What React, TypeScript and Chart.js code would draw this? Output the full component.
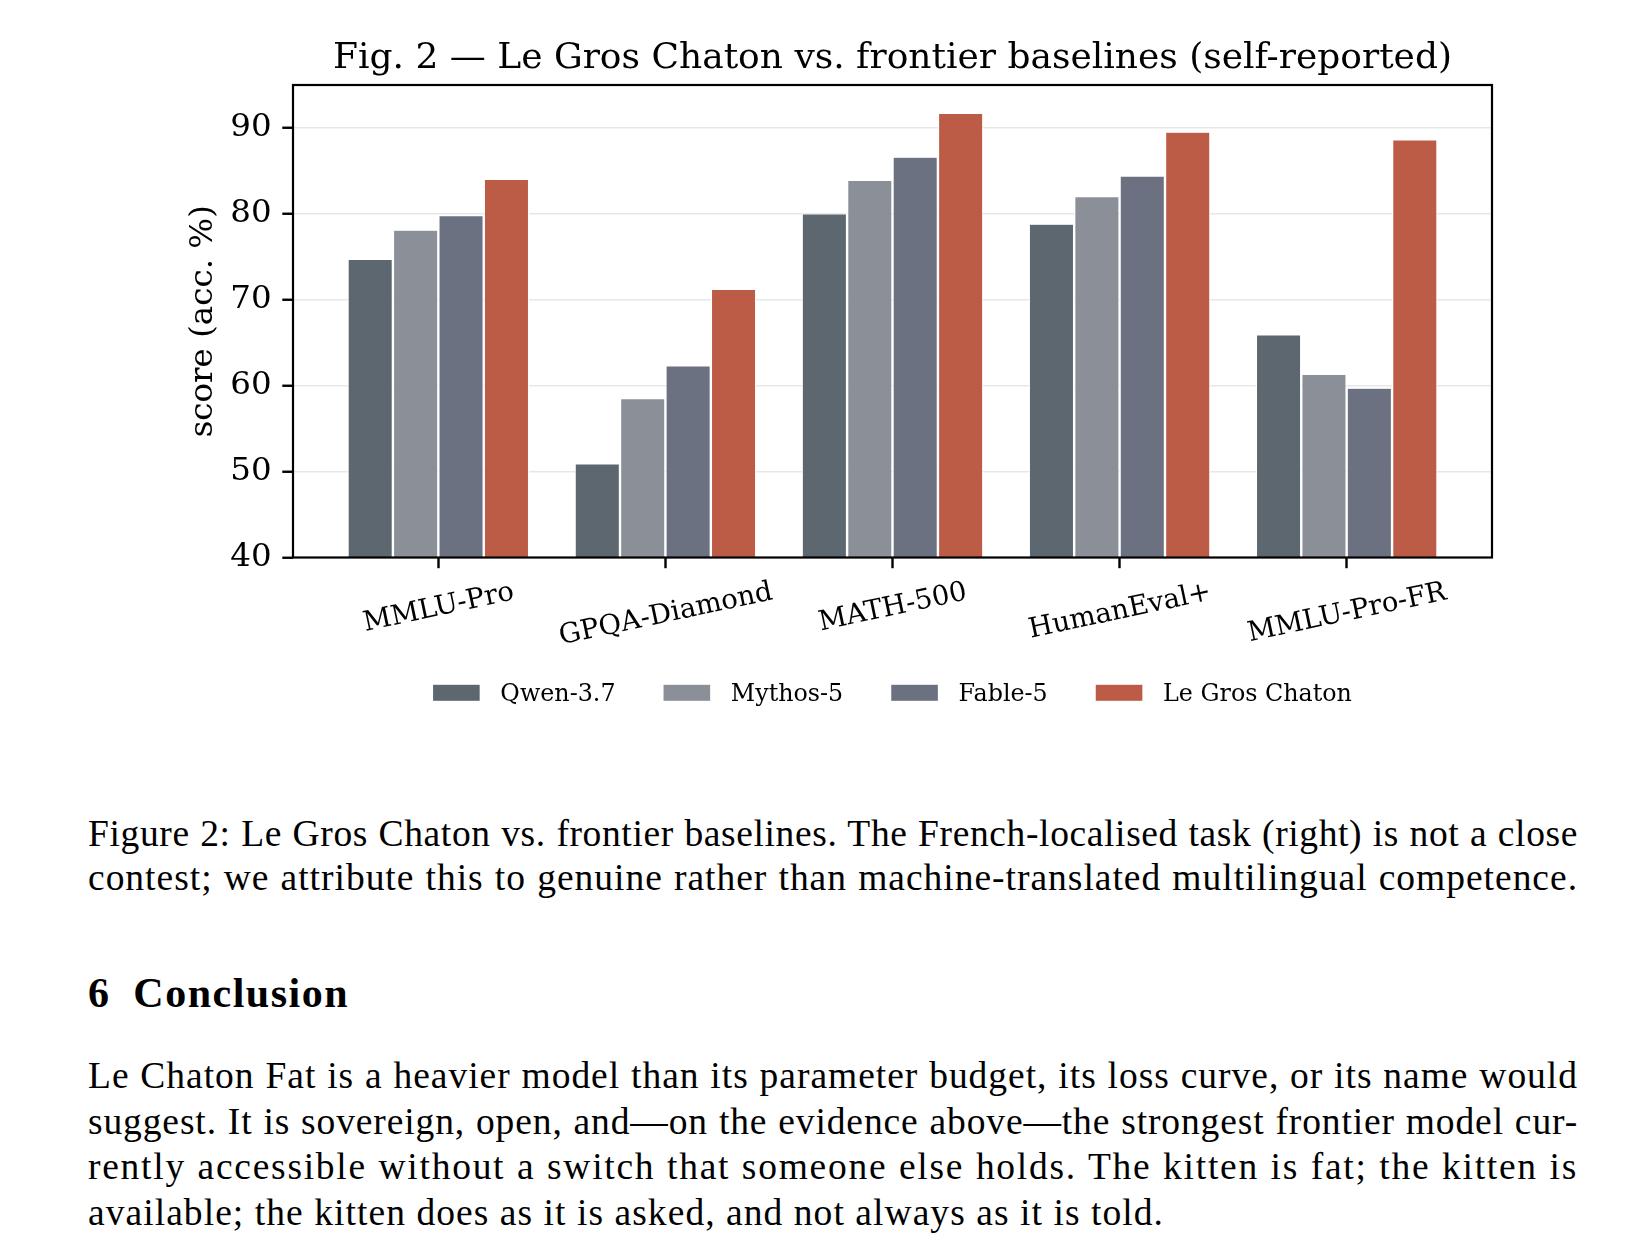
import React, { useEffect, useMemo, useRef } from "react";
import { Chart, registerables } from "chart.js";

Chart.register(...registerables);

// ---------- data ----------
const CATEGORIES = ["MMLU-Pro", "GPQA-Diamond", "MATH-500", "HumanEval+", "MMLU-Pro-FR"];
const SERIES_NAMES = ["Qwen-3.7", "Mythos-5", "Fable-5", "Le Gros Chaton"];
const QWEN = [74.7, 50.9, 80.0, 78.8, 65.9];
const MYTHOS = [78.1, 58.5, 83.9, 82.0, 61.3];
const FABLE = [79.8, 62.3, 86.6, 84.4, 59.7];
const CHATON = [84.0, 71.2, 91.7, 89.5, 88.6];
const SERIES_VALUES = [QWEN, MYTHOS, FABLE, CHATON];
const SERIES_COLORS = ["#5d6770", "#8b8f97", "#6b7180", "#bc5c46"];
const Y_MIN = 40;
const Y_MAX = 95;
const Y_STEP = 10;
const TITLE = "Fig. 2 \u2014 Le Gros Chaton vs. frontier baselines (self-reported)";
const Y_LABEL = "score (acc. %)";

const CAPTION_LINES = [
  "Figure 2: Le Gros Chaton vs. frontier baselines. The French-localised task (right) is not a close",
  "contest; we attribute this to genuine rather than machine-translated multilingual competence.",
];
const HEADING_NUM = "6";
const HEADING_TEXT = "Conclusion";
const PARA_LINES = [
  "Le Chaton Fat is a heavier model than its parameter budget, its loss curve, or its name would",
  "suggest. It is sovereign, open, and\u2014on the evidence above\u2014the strongest frontier model cur-",
  "rently accessible without a switch that someone else holds. The kitten is fat; the kitten is",
  "available; the kitten does as it is asked, and not always as it is told.",
];

// ---------- layout ----------
const W = 1636;
const CANVAS_H = 740;
const AREA_LEFT = 293;
const AREA_RIGHT = 1492;
const AREA_TOP = 85;
const AREA_BOTTOM = 557.5;
const X_AXIS_H = 20;
const SERIF = '"DejaVu Serif", serif';
const TICK_FONT = 32.5;
const XTICK_FONT = 27.5;
const XTICK_ROT = 12;
const TITLE_FONT = 36;
const LEGEND_FONT = 23.8;
const TICK_LEN = 10.7;

const decorPlugin = {
  id: "decor",
  afterDraw(chart: any) {
    const { ctx, chartArea: a, scales } = chart;
    ctx.save();
    // frame
    ctx.strokeStyle = "#000";
    ctx.lineWidth = 2.2;
    ctx.strokeRect(a.left, a.top, a.right - a.left, a.bottom - a.top);

    ctx.fillStyle = "#000";
    // title
    ctx.font = `${TITLE_FONT}px ${SERIF}`;
    ctx.textAlign = "center";
    ctx.textBaseline = "alphabetic";
    ctx.fillText(TITLE, (a.left + a.right) / 2, 67.7);

    // y label
    ctx.save();
    ctx.font = `${TICK_FONT}px ${SERIF}`;
    ctx.translate(201, (a.top + a.bottom) / 2);
    ctx.rotate(-Math.PI / 2);
    ctx.textAlign = "center";
    ctx.fillText(Y_LABEL, 0, 0.346 * TICK_FONT);
    ctx.restore();

    // x labels (rotated, centred on tick)
    const xs = scales.x;
    ctx.font = `${XTICK_FONT}px ${SERIF}`;
    const th = (XTICK_ROT * Math.PI) / 180;
    CATEGORIES.forEach((c, i) => {
      const px = xs.getPixelForValue(i);
      const w = ctx.measureText(c).width;
      const h = XTICK_FONT * 1.164;
      const H = w * Math.sin(th) + h * Math.cos(th);
      const cy = a.bottom + TICK_LEN + 6 + H / 2;
      ctx.save();
      ctx.translate(px, cy);
      ctx.rotate(-th);
      ctx.textAlign = "center";
      ctx.fillText(c, 0, 0.346 * XTICK_FONT);
      ctx.restore();
    });

    // legend
    const ds = chart.data.datasets;
    ctx.font = `${LEGEND_FONT}px ${SERIF}`;
    const boxW = 46.6;
    const boxH = 16;
    const pad = 20.7;
    const col = 48;
    const widths = ds.map((d: any) => ctx.measureText(d.label).width);
    const total =
      widths.reduce((s: number, w: number) => s + boxW + pad + w, 0) + col * (ds.length - 1);
    let x = (a.left + a.right) / 2 - total / 2;
    const cy = 692.8;
    ds.forEach((d: any, i: number) => {
      ctx.fillStyle = d.backgroundColor;
      ctx.fillRect(x, cy - boxH / 2, boxW, boxH);
      ctx.fillStyle = "#000";
      ctx.textAlign = "left";
      ctx.textBaseline = "alphabetic";
      ctx.fillText(d.label, x + boxW + pad, 701.3);
      x += boxW + pad + widths[i] + col;
    });
    ctx.restore();
  },
};

function BarChart() {
  const ref = useRef<HTMLCanvasElement | null>(null);
  useEffect(() => {
    if (!ref.current) return;
    const datasets = SERIES_NAMES.map((name, i) => ({
      label: name,
      data: CATEGORIES.map((_, j) => ({ x: j, y: SERIES_VALUES[i][j] })),
      backgroundColor: SERIES_COLORS[i],
      borderColor: "#ffffff",
      borderWidth: { top: 0.6, left: 1.2, right: 1.2, bottom: 0 },
      borderSkipped: false,
      categoryPercentage: 0.8,
      barPercentage: 1.0,
    }));
    const chart = new Chart(ref.current, {
      type: "bar",
      data: { datasets },
      options: {
        animation: false,
        responsive: false,
        devicePixelRatio: 1,
        layout: {
          padding: {
            left: 0,
            top: AREA_TOP,
            right: W - AREA_RIGHT,
            bottom: CANVAS_H - AREA_BOTTOM - X_AXIS_H,
          },
        },
        plugins: {
          legend: { display: false },
          title: { display: false },
          tooltip: { enabled: false },
        },
        scales: {
          x: {
            type: "linear",
            min: -0.64,
            max: CATEGORIES.length - 1 + 0.64,
            offset: false,
            afterBuildTicks: (s: any) => {
              s.ticks = CATEGORIES.map((_, i) => ({ value: i }));
            },
            afterFit: (s: any) => {
              s.height = X_AXIS_H;
            },
            ticks: { display: false },
            grid: {
              offset: false,
              drawOnChartArea: false,
              drawTicks: true,
              tickLength: TICK_LEN,
              tickColor: "#000",
              tickWidth: 2.4,
            },
            border: { display: false },
          },
          y: {
            type: "linear",
            min: Y_MIN,
            max: Y_MAX,
            z: 1,
            afterFit: (s: any) => {
              s.width = AREA_LEFT;
            },
            ticks: {
              stepSize: Y_STEP,
              includeBounds: false,
              color: "#000",
              padding: 10.7,
              font: { family: "DejaVu Serif", size: TICK_FONT },
            },
            grid: {
              color: "rgba(176,176,176,0.3)",
              lineWidth: 1.5,
              drawTicks: true,
              tickLength: TICK_LEN,
              tickColor: "#000",
              tickWidth: 2.4,
            },
            border: { display: false },
          },
        },
      },
      plugins: [decorPlugin],
    } as any);
    return () => chart.destroy();
  }, []);
  return (
    <canvas
      ref={ref}
      width={W}
      height={CANVAS_H}
      style={{ position: "absolute", left: 0, top: 0, width: W, height: CANVAS_H }}
    />
  );
}

const BODY_FONT = 37.5;
const BODY_FAMILY_CSS = '"Liberation Serif", "Times New Roman", serif';
const TEXT_LEFT = 88;
const TEXT_WIDTH = 1490;

let measureCtx: CanvasRenderingContext2D | null = null;
function measure(text: string, font: string): number {
  if (!measureCtx) measureCtx = document.createElement("canvas").getContext("2d");
  if (!measureCtx) return 0;
  measureCtx.font = font;
  return measureCtx.measureText(text).width;
}

function Line({ text, baseline, target, justify }: { text: string; baseline: number; target: number; justify: boolean }) {
  const ls = useMemo(() => {
    const w0 = measure(text, `${BODY_FONT}px "Liberation Serif"`);
    if (!w0) return 0;
    return Math.max(-1, (target - w0) / text.length);
  }, [text, target]);
  return (
    <div
      style={{
        position: "absolute",
        left: TEXT_LEFT,
        width: TEXT_WIDTH,
        top: baseline - 0.3375 * BODY_FONT,
        fontFamily: BODY_FAMILY_CSS,
        fontSize: BODY_FONT,
        lineHeight: "0px",
        letterSpacing: `${ls}px`,
        textAlign: justify ? "justify" : "left",
        textAlignLast: justify ? "justify" : "left",
        color: "#000",
      }}
    >
      {text}
    </div>
  );
}

export default function App() {
  const capBase = [846.7, 890.7];
  const paraBase = [1089, 1134.5, 1180, 1225.5];
  const headFont = 42;
  return (
    <div
      style={{
        position: "absolute",
        left: 0,
        top: 0,
        width: W,
        height: 1260,
        background: "#fff",
        overflow: "hidden",
      }}
    >
      <BarChart />
      {CAPTION_LINES.map((t, i) => (
        <Line key={"c" + i} text={t} baseline={capBase[i]} target={1482} justify={true} />
      ))}
      <div
        style={{
          position: "absolute",
          left: TEXT_LEFT,
          top: 1006.7 - 0.3375 * headFont,
          fontFamily: BODY_FAMILY_CSS,
          fontWeight: "bold",
          fontSize: headFont,
          lineHeight: "0px",
          whiteSpace: "nowrap",
          color: "#000",
        }}
      >
        <span>{HEADING_NUM}</span>
        <span style={{ position: "absolute", left: 133.3 - TEXT_LEFT, letterSpacing: "1.5px" }}>
          {HEADING_TEXT}
        </span>
      </div>
      {PARA_LINES.map((t, i) => {
        const last = i === PARA_LINES.length - 1;
        return (
          <Line
            key={"p" + i}
            text={t}
            baseline={paraBase[i]}
            target={last ? 1076 : 1482}
            justify={!last}
          />
        );
      })}
    </div>
  );
}
